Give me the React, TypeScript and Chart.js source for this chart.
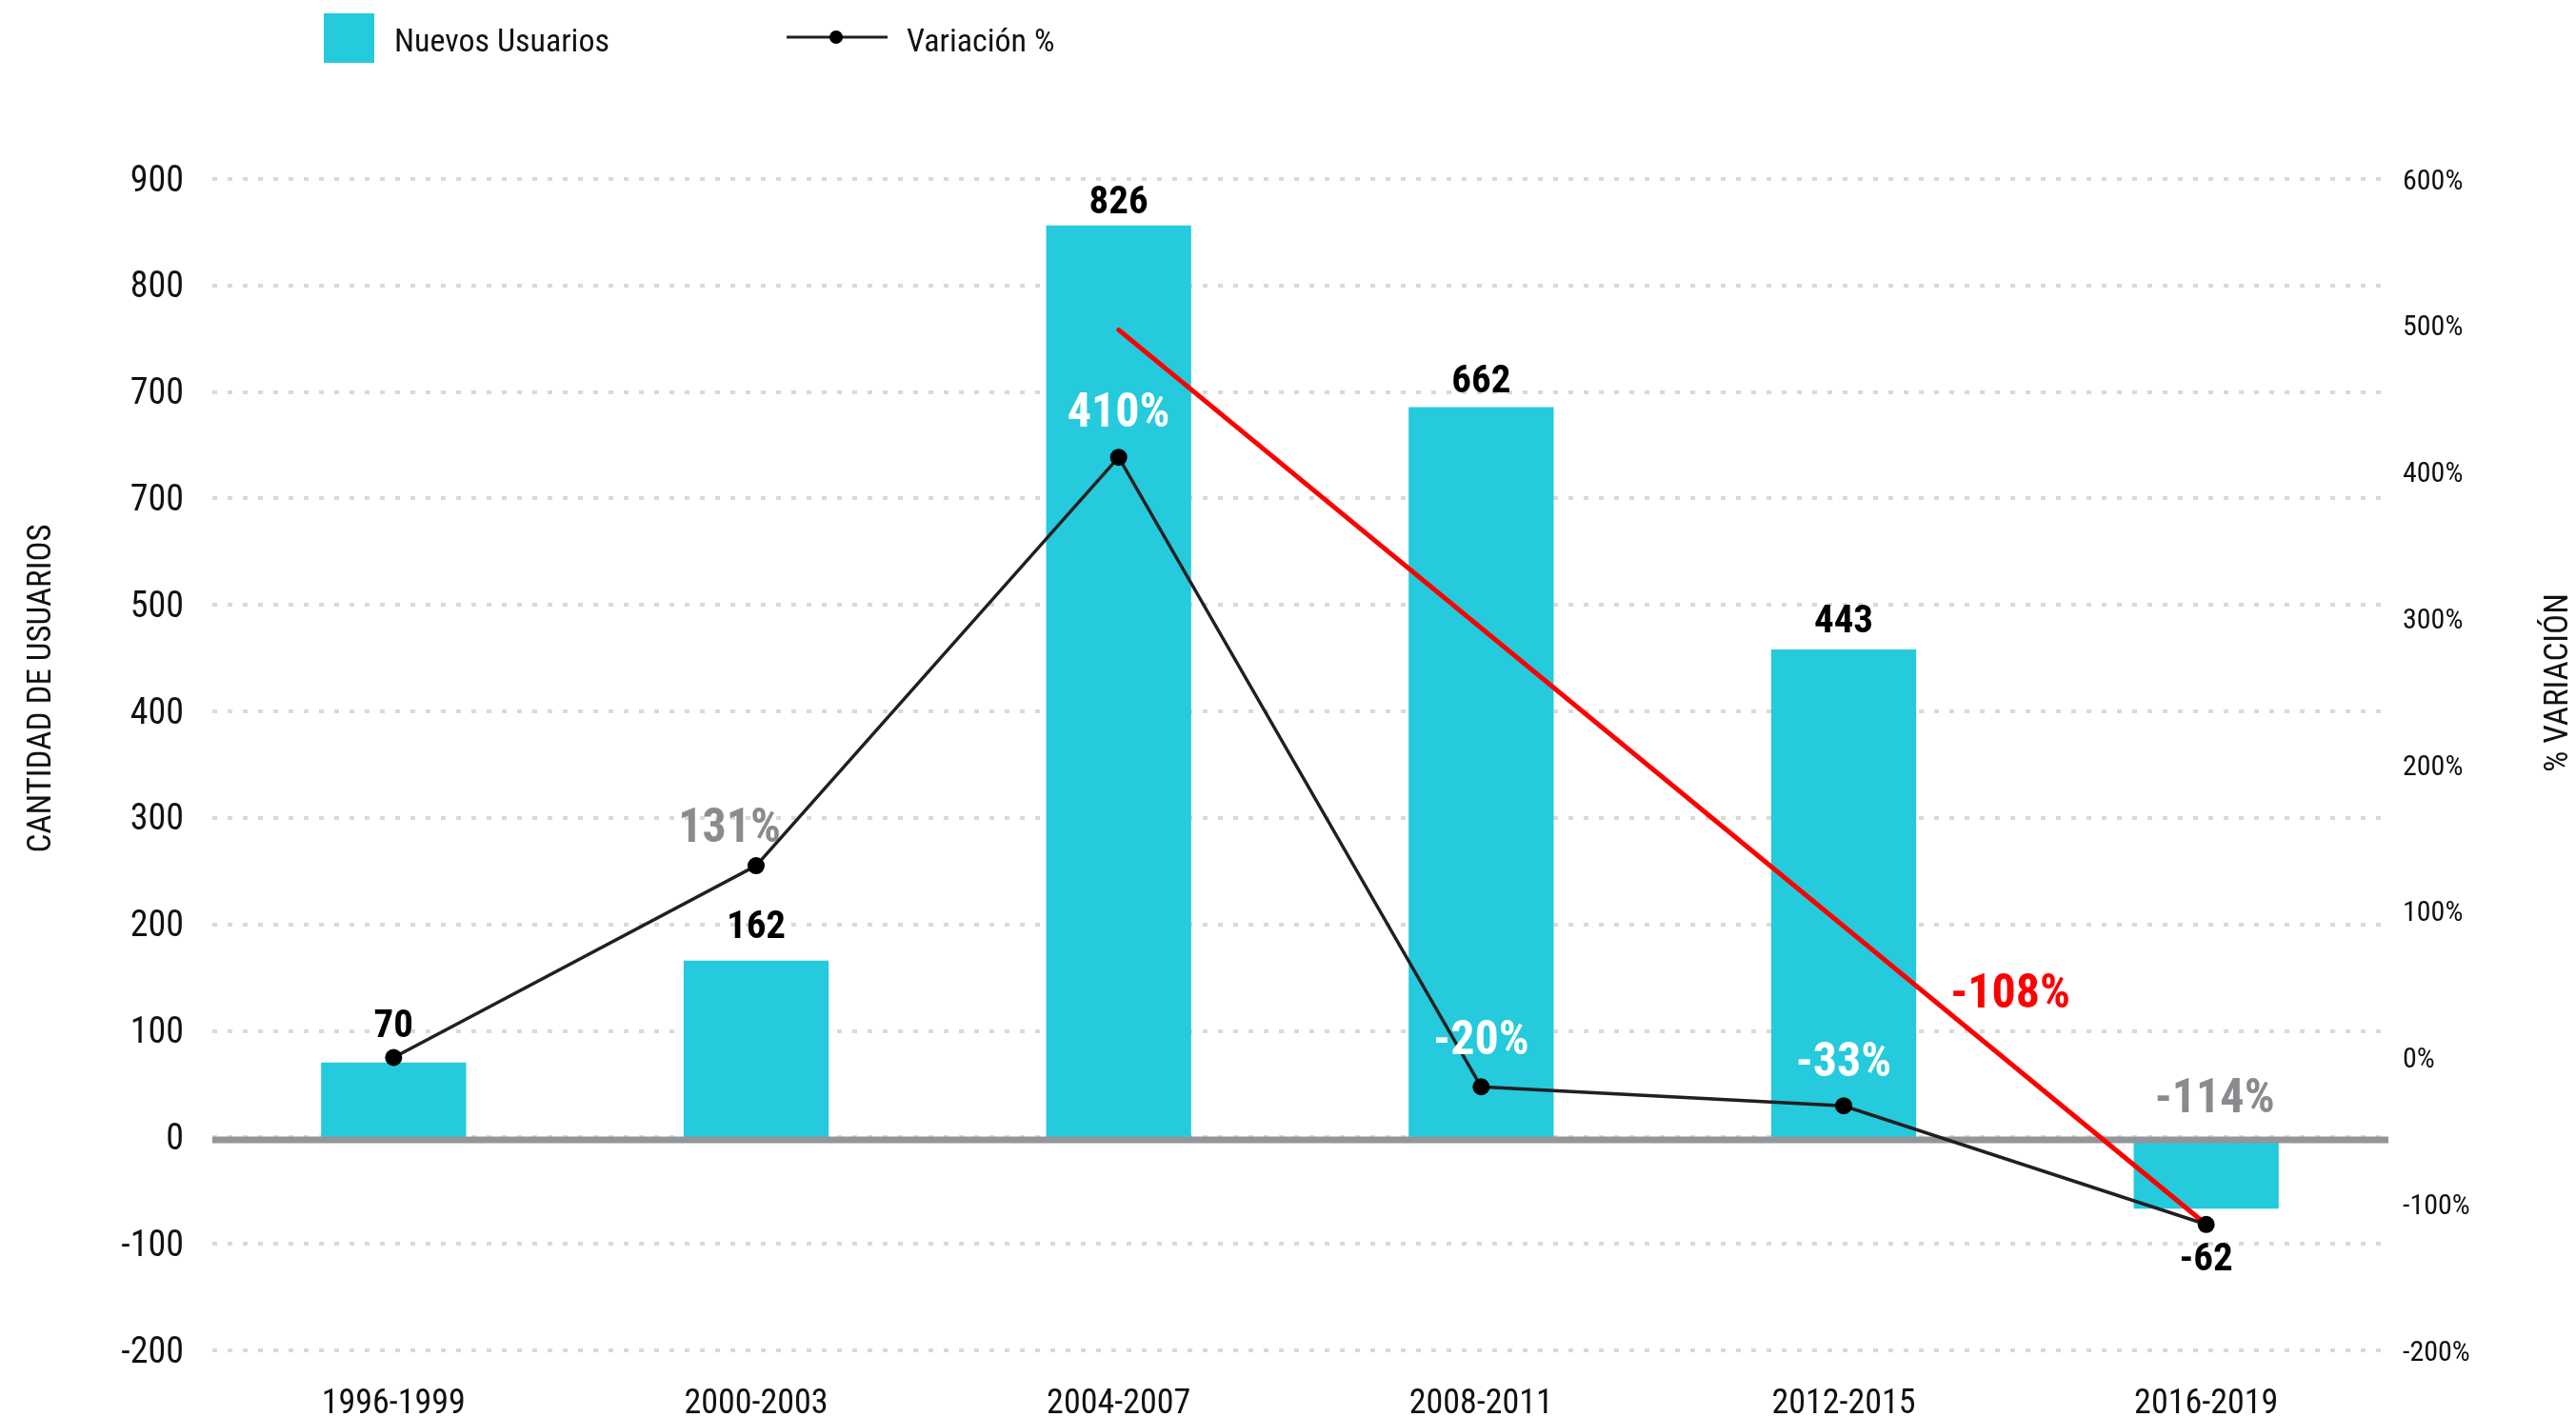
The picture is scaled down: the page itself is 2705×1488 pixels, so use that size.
import React, { useEffect, useRef } from 'react';
import { Chart, registerables } from 'chart.js';

Chart.register(...registerables);

const CATEGORIES = ['1996-1999', '2000-2003', '2004-2007', '2008-2011', '2012-2015', '2016-2019'];
const NEW_USERS = [70, 162, 826, 662, 443, -62];
const VARIATION = [0, 131, 410, -20, -33, -114];
const TREND = [null, null, 497, null, null, -114];
const TREND_LABEL = '-108%';
const VARIATION_LABELS = [null, '131%', '410%', '-20%', '-33%', '-114%'];
const LEFT_TICK_LABELS = ['-200', '-100', '0', '100', '200', '300', '400', '500', '700', '700', '800', '900'];
const USERS_MIN = -190;
const USERS_MAX = 868;
const PCT_MIN = -200;
const PCT_MAX = 600;
const PCT_STEP = 100;
const LEGEND_LABELS = ['Nuevos Usuarios', 'Variación %'];
const Y_TITLE = 'CANTIDAD DE USUARIOS';
const Y2_TITLE = '% VARIACIÓN';

const CYAN = '#25cadc';
const GRAY_LABEL = '#8a8b8f';

function pickFamily(): string {
  const c = document.createElement('canvas').getContext('2d');
  if (!c) return 'Roboto';
  const test = 'Nuevos Usuarios 1996-1999 CANTIDAD';
  c.font = '40px monospace';
  const base = c.measureText(test).width;
  for (const f of ['Roboto Condensed', 'Liberation Sans Narrow', 'DejaVu Sans Condensed']) {
    c.font = `40px '${f}', monospace`;
    if (Math.abs(c.measureText(test).width - base) > 0.5) return `'${f}'`;
  }
  return 'Roboto';
}

export default function App() {
  const ref = useRef<HTMLCanvasElement | null>(null);

  useEffect(() => {
    const canvas = ref.current;
    if (!canvas) return;
    const FAMILY = pickFamily();
    Chart.defaults.font.family = FAMILY;

    const TY = 5; // visual centring shift for canvas text
    const barLabelDy = [-42, -39, -28, -31, -33, 50];
    const pctDx = [0, -28, 0, 0, 0, 9];
    const pctDy = [0, -43, -50, -52, -49, -135];
    const pctColor = ['#000', GRAY_LABEL, '#fff', '#fff', '#fff', GRAY_LABEL];

    const overlay = {
      id: 'overlay',
      afterDatasetDraw(chart: any, args: any) {
        if (args.meta.type !== 'bar') return;
        const { ctx, chartArea } = chart;
        const y0 = chart.scales.y.getPixelForValue(0);
        ctx.save();
        ctx.strokeStyle = '#939598';
        ctx.lineWidth = 7;
        ctx.beginPath();
        ctx.moveTo(chartArea.left, y0);
        ctx.lineTo(chartArea.right + 1, y0);
        ctx.stroke();
        ctx.restore();
      },
      afterDraw(chart: any) {
        const { ctx } = chart;
        ctx.save();
        ctx.textAlign = 'center';
        ctx.textBaseline = 'middle';

        // bar value labels
        const barMeta = chart.getDatasetMeta(0);
        ctx.font = `bold 41px ${FAMILY}`;
        ctx.fillStyle = '#000';
        barMeta.data.forEach((el: any, i: number) => {
          ctx.fillText(String(NEW_USERS[i]), el.x, el.y + barLabelDy[i] + TY);
        });

        // variation labels
        const lineMeta = chart.getDatasetMeta(1);
        ctx.font = `bold 50px ${FAMILY}`;
        lineMeta.data.forEach((el: any, i: number) => {
          const t = VARIATION_LABELS[i];
          if (!t) return;
          ctx.fillStyle = pctColor[i];
          ctx.fillText(t, el.x + pctDx[i], el.y + pctDy[i] + TY);
        });

        // trend label
        const tMeta = chart.getDatasetMeta(2);
        const a = tMeta.data[2];
        const b = tMeta.data[5];
        ctx.fillStyle = '#ff0000';
        ctx.fillText(TREND_LABEL, a.x + 0.82 * (b.x - a.x), a.y + 0.82 * (b.y - a.y) - 76 + TY);

        // axis titles
        ctx.font = `35px ${FAMILY}`;
        ctx.fillStyle = '#111';
        ctx.save();
        ctx.translate(44, 723);
        ctx.rotate(-Math.PI / 2);
        ctx.fillText(Y_TITLE, 0, 0);
        ctx.restore();
        ctx.save();
        ctx.translate(2687, 717);
        ctx.rotate(-Math.PI / 2);
        ctx.fillText(Y2_TITLE, 0, 0);
        ctx.restore();

        // legend
        ctx.fillStyle = CYAN;
        ctx.fillRect(340, 14, 53, 52);
        ctx.font = `34px ${FAMILY}`;
        ctx.fillStyle = '#111';
        ctx.textAlign = 'left';
        ctx.fillText(LEGEND_LABELS[0], 414, 40 + TY);
        ctx.strokeStyle = '#231f20';
        ctx.lineWidth = 3;
        ctx.beginPath();
        ctx.moveTo(826, 39);
        ctx.lineTo(932, 39);
        ctx.stroke();
        ctx.fillStyle = '#000';
        ctx.beginPath();
        ctx.arc(878, 39, 7, 0, Math.PI * 2);
        ctx.fill();
        ctx.fillStyle = '#111';
        ctx.fillText(LEGEND_LABELS[1], 952, 40 + TY);
        ctx.restore();
      },
    };

    const chart = new Chart(canvas, {
      type: 'bar',
      data: {
        labels: CATEGORIES,
        datasets: [
          {
            type: 'bar',
            label: LEGEND_LABELS[0],
            data: NEW_USERS,
            backgroundColor: CYAN,
            categoryPercentage: 1,
            barPercentage: 0.4,
            yAxisID: 'y',
            order: 3,
          } as any,
          {
            type: 'line',
            label: LEGEND_LABELS[1],
            data: VARIATION,
            borderColor: '#231f20',
            borderWidth: 3.5,
            pointRadius: 9,
            pointBackgroundColor: '#000',
            pointBorderWidth: 0,
            tension: 0,
            yAxisID: 'y2',
            order: 1,
          } as any,
          {
            type: 'line',
            label: 'Tendencia',
            data: TREND,
            borderColor: '#ff0000',
            borderWidth: 5,
            borderCapStyle: 'round',
            pointRadius: 0,
            spanGaps: true,
            tension: 0,
            yAxisID: 'y2',
            order: 2,
          } as any,
        ],
      },
      options: {
        animation: false,
        responsive: false,
        devicePixelRatio: 1,
        layout: { padding: { top: 188, left: 0, right: 0, bottom: 0 } },
        plugins: { legend: { display: false }, tooltip: { enabled: false } },
        scales: {
          x: {
            grid: { display: false, drawTicks: false },
            border: { display: false },
            ticks: { font: { size: 36 }, color: '#111', padding: 35, maxRotation: 0 },
            afterFit: (s: any) => {
              s.height = 70;
              s.paddingLeft = 0;
              s.paddingRight = 0;
            },
          },
          y: {
            position: 'left',
            min: USERS_MIN,
            max: USERS_MAX,
            grid: { color: '#d9d9d9', lineWidth: 4, drawTicks: false },
            border: { display: false, dash: [5, 11] },
            afterBuildTicks: (s: any) => {
              const n = LEFT_TICK_LABELS.length - 1;
              s.ticks = LEFT_TICK_LABELS.map((_, i) => ({ value: USERS_MIN + (i * (USERS_MAX - USERS_MIN)) / n }));
            },
            ticks: {
              font: { size: 38 },
              color: '#111',
              padding: 30,
              labelOffset: 3,
              callback: (_v: any, i: number) => LEFT_TICK_LABELS[i],
            },
            afterFit: (s: any) => {
              s.width = 223;
              s.paddingTop = 0;
              s.paddingBottom = 0;
            },
          },
          y2: {
            position: 'right',
            min: PCT_MIN,
            max: PCT_MAX,
            grid: { display: false, drawTicks: false },
            border: { display: false },
            ticks: {
              stepSize: PCT_STEP,
              font: { size: 30 },
              color: '#111',
              padding: 16,
              labelOffset: 3,
              callback: (v: any) => `${v}%`,
            },
            afterFit: (s: any) => {
              s.width = 198;
              s.paddingTop = 0;
              s.paddingBottom = 0;
            },
          },
        },
      } as any,
      plugins: [overlay],
    });

    return () => chart.destroy();
  }, []);

  return (
    <div style={{ position: 'absolute', left: 0, top: 0, width: 2705, height: 1488, background: '#fff' }}>
      <canvas ref={ref} width={2705} height={1488} style={{ width: 2705, height: 1488 }} />
    </div>
  );
}
